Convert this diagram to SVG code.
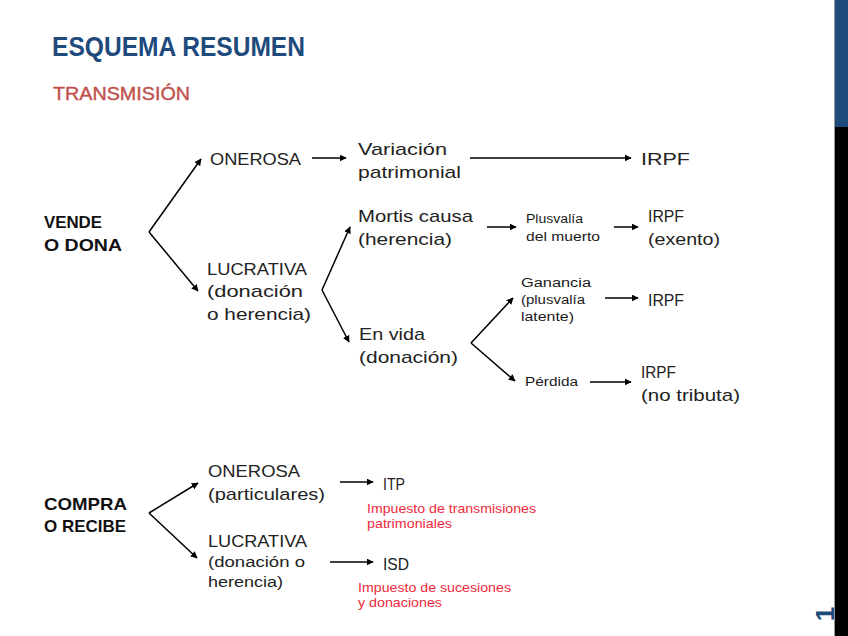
<svg xmlns="http://www.w3.org/2000/svg" width="848" height="636" viewBox="0 0 848 636">
<defs>
<marker id="ah" viewBox="0 0 10 10" refX="9" refY="5" markerWidth="7" markerHeight="7" markerUnits="userSpaceOnUse" orient="auto">
<path d="M0,0 L10,5 L0,10 z" fill="#000"/>
</marker>
<style>
.t{font-family:"Liberation Sans",Arial,sans-serif;font-size:17px;fill:#222}
.s{font-family:"Liberation Sans",Arial,sans-serif;font-size:12px;fill:#1a1a1a}
.b{font-family:"Liberation Sans",Arial,sans-serif;font-size:17px;font-weight:bold;fill:#111}
.r{font-family:"Liberation Sans",Arial,sans-serif;font-size:13px;fill:#ee2a3c}
.c line{stroke:#000;stroke-width:1.5;fill:none}
</style>
</defs>
<rect width="848" height="636" fill="#fff"/>
<text x="52" y="56" font-family="Liberation Sans,Arial,sans-serif" font-size="27" font-weight="bold" fill="#1f4a7c" textLength="253" lengthAdjust="spacingAndGlyphs">ESQUEMA RESUMEN</text>
<text x="53" y="100" font-family="Liberation Sans,Arial,sans-serif" font-size="19" fill="#c0504d" stroke="#c0504d" stroke-width="0.4" textLength="137" lengthAdjust="spacingAndGlyphs">TRANSMISIÓN</text>

<g class="c" id="connectors">
<line x1="149" y1="232" x2="201" y2="159" marker-end="url(#ah)"/>
<line x1="149" y1="232" x2="198" y2="291" marker-end="url(#ah)"/>
<line x1="312" y1="158" x2="346" y2="158" marker-end="url(#ah)"/>
<line x1="470" y1="158" x2="631" y2="158" marker-end="url(#ah)"/>
<line x1="322" y1="290" x2="350" y2="227" marker-end="url(#ah)"/>
<line x1="322" y1="290" x2="349" y2="342" marker-end="url(#ah)"/>
<line x1="487" y1="227" x2="516" y2="227" marker-end="url(#ah)"/>
<line x1="614" y1="227" x2="638" y2="227" marker-end="url(#ah)"/>
<line x1="471" y1="343" x2="513" y2="298" marker-end="url(#ah)"/>
<line x1="471" y1="343" x2="515" y2="381" marker-end="url(#ah)"/>
<line x1="605" y1="298" x2="638" y2="298" marker-end="url(#ah)"/>
<line x1="590" y1="382" x2="631" y2="382" marker-end="url(#ah)"/>
<line x1="149" y1="513" x2="198" y2="483" marker-end="url(#ah)"/>
<line x1="149" y1="513" x2="197" y2="558" marker-end="url(#ah)"/>
<line x1="340" y1="482" x2="373" y2="482" marker-end="url(#ah)"/>
<line x1="330" y1="562" x2="373" y2="562" marker-end="url(#ah)"/>
</g>

<g id="vende"><text class="b" x="44" y="228" textLength="58" lengthAdjust="spacingAndGlyphs">VENDE</text><text class="b" x="44" y="251" textLength="78" lengthAdjust="spacingAndGlyphs">O DONA</text></g>
<g id="onerosa1"><text class="t" x="210" y="165" textLength="91" lengthAdjust="spacingAndGlyphs">ONEROSA</text></g>
<g id="variacion"><text class="t" x="358" y="155" textLength="89" lengthAdjust="spacingAndGlyphs">Variación</text><text class="t" x="358" y="178" textLength="103" lengthAdjust="spacingAndGlyphs">patrimonial</text></g>
<g id="irpf1"><text class="t" x="641" y="165" textLength="49" lengthAdjust="spacingAndGlyphs">IRPF</text></g>
<g id="lucrativa1"><text class="t" x="207" y="275" textLength="100" lengthAdjust="spacingAndGlyphs">LUCRATIVA</text><text class="t" x="207" y="297" textLength="96" lengthAdjust="spacingAndGlyphs">(donación</text><text class="t" x="207" y="320" textLength="104" lengthAdjust="spacingAndGlyphs">o herencia)</text></g>
<g id="mortis"><text class="t" x="358" y="222" textLength="115" lengthAdjust="spacingAndGlyphs">Mortis causa</text><text class="t" x="358" y="245" textLength="94" lengthAdjust="spacingAndGlyphs">(herencia)</text></g>
<g id="plusvalia"><text class="s" x="526" y="223" textLength="57" lengthAdjust="spacingAndGlyphs">Plusvalía</text><text class="s" x="526" y="241" textLength="74" lengthAdjust="spacingAndGlyphs">del muerto</text></g>
<g id="irpf2"><text class="t" x="648" y="222" textLength="36" lengthAdjust="spacingAndGlyphs">IRPF</text><text class="t" x="648" y="245" textLength="72" lengthAdjust="spacingAndGlyphs">(exento)</text></g>
<g id="envida"><text class="t" x="359" y="340" textLength="66" lengthAdjust="spacingAndGlyphs">En vida</text><text class="t" x="359" y="363" textLength="99" lengthAdjust="spacingAndGlyphs">(donación)</text></g>
<g id="ganancia"><text class="s" x="521" y="287" textLength="70" lengthAdjust="spacingAndGlyphs">Ganancia</text><text class="s" x="521" y="304" textLength="64" lengthAdjust="spacingAndGlyphs">(plusvalía</text><text class="s" x="521" y="321" textLength="53" lengthAdjust="spacingAndGlyphs">latente)</text></g>
<g id="irpf3"><text class="t" x="648" y="306" textLength="36" lengthAdjust="spacingAndGlyphs">IRPF</text></g>
<g id="perdida"><text class="s" x="525" y="386" textLength="53" lengthAdjust="spacingAndGlyphs">Pérdida</text></g>
<g id="irpf4"><text class="t" x="641" y="378" textLength="35" lengthAdjust="spacingAndGlyphs">IRPF</text><text class="t" x="641" y="401" textLength="99" lengthAdjust="spacingAndGlyphs">(no tributa)</text></g>

<g id="compra"><text class="b" x="44" y="510" textLength="83" lengthAdjust="spacingAndGlyphs">COMPRA</text><text class="b" x="44" y="532" textLength="82" lengthAdjust="spacingAndGlyphs">O RECIBE</text></g>
<g id="onerosa2"><text class="t" x="208" y="477" textLength="92" lengthAdjust="spacingAndGlyphs">ONEROSA</text><text class="t" x="208" y="500" textLength="117" lengthAdjust="spacingAndGlyphs">(particulares)</text></g>
<g id="lucrativa2"><text class="t" x="208" y="547" textLength="99" lengthAdjust="spacingAndGlyphs">LUCRATIVA</text><text class="t" x="208" y="567" textLength="97" lengthAdjust="spacingAndGlyphs" style="font-size:14px">(donación o</text><text class="t" x="208" y="587" textLength="75" lengthAdjust="spacingAndGlyphs" style="font-size:14px">herencia)</text></g>
<g id="itp"><text class="t" x="383" y="490" textLength="22" lengthAdjust="spacingAndGlyphs">ITP</text><text class="r" x="367" y="513" textLength="169" lengthAdjust="spacingAndGlyphs">Impuesto de transmisiones</text><text class="r" x="367" y="528" textLength="85" lengthAdjust="spacingAndGlyphs">patrimoniales</text></g>
<g id="isd"><text class="t" x="383" y="570" textLength="26" lengthAdjust="spacingAndGlyphs">ISD</text><text class="r" x="358" y="592" textLength="153" lengthAdjust="spacingAndGlyphs">Impuesto de sucesiones</text><text class="r" x="358" y="607" textLength="84" lengthAdjust="spacingAndGlyphs">y donaciones</text></g>

<text transform="translate(834,614) rotate(-90)" font-family="Liberation Sans,Arial,sans-serif" font-size="26" font-weight="bold" fill="#1f4a7c" text-anchor="middle">1</text>
<rect x="834" y="0" width="1" height="636" fill="#999"/>
<rect x="835" y="0" width="13" height="127" fill="#1f4a7c"/>
<rect x="835" y="127" width="13" height="509" fill="#000"/>
</svg>
